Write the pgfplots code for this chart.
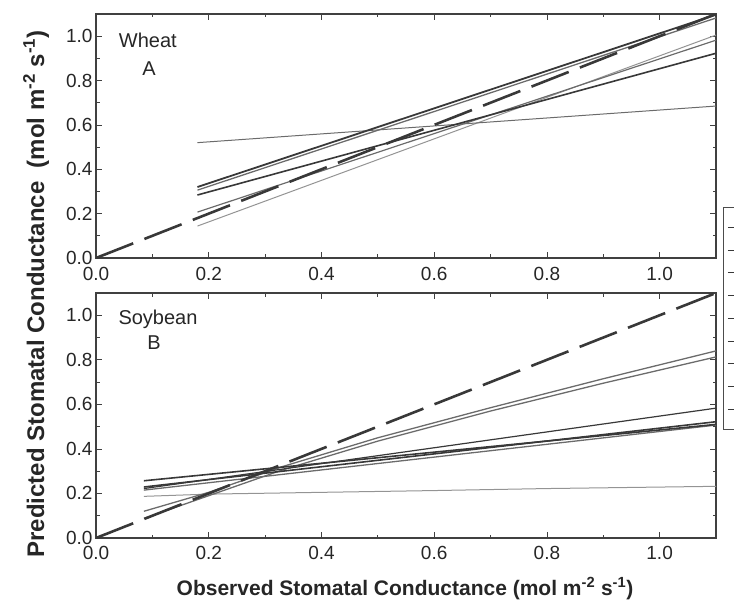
\documentclass[border=0pt]{standalone}
\usepackage{fontspec}
\setmainfont{Liberation Sans}
\usepackage{pgfplots}
\pgfplotsset{compat=1.18}
\definecolor{dk}{gray}{0.22}
\definecolor{md}{gray}{0.42}
\definecolor{lt}{gray}{0.58}
\begin{document}
\begin{tikzpicture}
\pgfplotsset{
  common/.style={
    scale only axis, width=620pt,
    xmin=0, xmax=1.1, ymin=0, ymax=1.1,
    xtick={0,0.2,0.4,0.6,0.8,1.0}, ytick={0,0.2,0.4,0.6,0.8,1.0},
    minor tick num=1,
    tick align=inside, major tick length=6pt, minor tick length=3.5pt,
    axis line style={line width=1.2pt, black!75},
    every tick/.style={black!75, line width=0.8pt},
    /pgf/number format/assume math mode=true,
    xticklabel style={/pgf/number format/fixed,/pgf/number format/fixed zerofill,/pgf/number format/precision=1},
    yticklabel style={/pgf/number format/fixed,/pgf/number format/fixed zerofill,/pgf/number format/precision=1},
    every tick label/.append style={font=\fontsize{19}{19}\selectfont, text=black!85},
    clip=true,
  }
}
% ---------- Wheat (A)
\begin{axis}[common, height=244pt, at={(96pt,345pt)}, anchor=south west,
  xticklabel style={yshift=-6pt},
  legend style={at={(1.0113,0.209)}, anchor=north west, draw=black!70, line width=0.8pt,
    inner xsep=4pt, inner ysep=8.6pt, row sep=0pt,
    nodes={minimum height=22.75pt, inner sep=0pt}, fill=white},
  legend image code/.code={\draw[#1] (0pt,0pt) -- (14pt,0pt);},
]
\addlegendimage{dk, line width=1pt}\addlegendentry{}
\addlegendimage{dk, line width=1pt}\addlegendentry{}
\addlegendimage{dk, line width=1pt}\addlegendentry{}
\addlegendimage{dk, line width=1pt}\addlegendentry{}
\addlegendimage{dk, line width=1pt}\addlegendentry{}
\addlegendimage{dk, line width=1pt}\addlegendentry{}
\addlegendimage{dk, line width=1pt}\addlegendentry{}
\addlegendimage{dk, line width=1pt}\addlegendentry{}
\addlegendimage{dk, line width=1pt}\addlegendentry{}
\addplot[lt, line width=1pt] coordinates {(0.18,0.144) (1.1,1.005)};
\addplot[md, line width=1.2pt] coordinates {(0.18,0.207) (1.1,0.982)};
\addplot[md, line width=1pt] coordinates {(0.18,0.52) (1.1,0.685)};
\addplot[dk, line width=1.6pt] coordinates {(0.18,0.284) (1.1,0.923)};
\addplot[md, line width=1.3pt] coordinates {(0.18,0.306) (1.1,1.082)};
\addplot[dk, line width=1.8pt] coordinates {(0.18,0.32) (1.1,1.097)};
\addplot[dk, line width=2.6pt, dash pattern=on 40pt off 12pt] coordinates {(0,0) (1.1,1.1)};
\node[font=\fontsize{20}{20}\selectfont, text=black!85] at (axis cs:0.092,0.98) {Wheat};
\node[font=\fontsize{20}{20}\selectfont, text=black!85] at (axis cs:0.094,0.856) {A};
\end{axis}
% ---------- Soybean (B)
\begin{axis}[common, height=245pt, at={(96pt,65pt)}, anchor=south west,
  xticklabel style={yshift=-5pt}]
\addplot[lt, line width=1pt] coordinates {(0.085,0.187) (0.2,0.197) (0.4,0.205) (0.6,0.213) (0.8,0.222) (1.1,0.232)};
\addplot[md, line width=1.3pt] coordinates {(0.085,0.12) (0.2,0.205) (0.33,0.32) (0.5,0.45) (0.7,0.585) (0.9,0.715) (1.1,0.84)};
\addplot[md, line width=1.3pt] coordinates {(0.085,0.088) (0.2,0.19) (0.33,0.305) (0.5,0.435) (0.7,0.57) (0.9,0.695) (1.1,0.813)};
\addplot[md, line width=1.3pt] coordinates {(0.085,0.215) (1.1,0.507)};
\addplot[dk, line width=1.2pt] coordinates {(0.085,0.222) (1.1,0.583)};
\addplot[dk, line width=1.6pt] coordinates {(0.085,0.229) (1.1,0.522)};
\addplot[dk, line width=1.6pt] coordinates {(0.085,0.257) (1.1,0.51)};
\addplot[dk, line width=2.6pt, dash pattern=on 40pt off 12pt] coordinates {(0,0) (1.1,1.1)};
\node[font=\fontsize{20}{20}\selectfont, text=black!85] at (axis cs:0.11,0.982) {Soybean};
\node[font=\fontsize{20}{20}\selectfont, text=black!85] at (axis cs:0.103,0.879) {B};
\end{axis}
\node[rotate=90, anchor=base, font=\bfseries\fontsize{24}{24}\selectfont, text=black!85] at (44pt,309pt)
  {Predicted Stomatal Conductance\ \ (mol m\textsuperscript{-2} s\textsuperscript{-1})};
\node[anchor=base, font=\bfseries\fontsize{21}{21}\selectfont, text=black!85] at (405pt,8pt)
  {Observed Stomatal Conductance (mol m\textsuperscript{-2} s\textsuperscript{-1})};
\pgfresetboundingbox
\path[use as bounding box] (0pt,0pt) rectangle (734pt,603pt);
\end{tikzpicture}
\end{document}
